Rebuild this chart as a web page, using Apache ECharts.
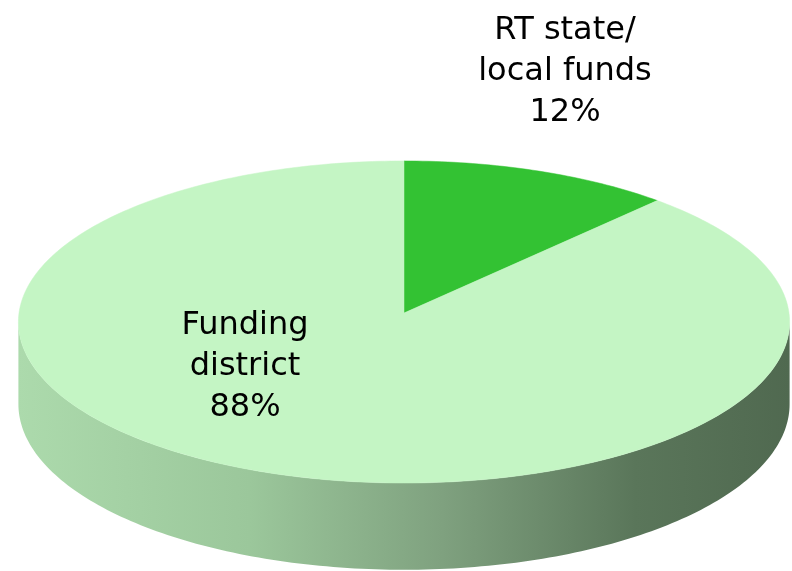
<!DOCTYPE html>
<html>
<head>
<meta charset="utf-8">
<script src="https://cdn.jsdelivr.net/npm/echarts@6/dist/echarts.min.js"></script>
<style>
  html, body { margin: 0; padding: 0; background: #ffffff; }
  #chart { width: 792px; height: 571px; }
</style>
</head>
<body>
<div id="chart"></div>
<script>
// Funding sources (percent of total)
const categories = ['RT state/\nlocal funds', 'Funding\ndistrict'];
const shares = [12, 88];

// Styling and layout
const topColors = ['#33c233', '#c4f5c4'];
const labelAnchors = [[565, 72], [245, 367]];

// Tilted-disc projection used to draw the pie in 3D
const view = {
  cx: 404, cy: 313,   // screen position of the pie centre
  scale: 385,         // pixels per unit radius
  sinE: 0.417,        // elevation of the viewpoint
  cosE: 0.909,
  dist: 16.3,         // camera distance (unit radii)
  depth: 0.234        // thickness of the disc (unit radii)
};

function project(thetaDeg, r, h) {
  const t = thetaDeg * Math.PI / 180;
  const X = r * Math.sin(t);
  const Z = r * Math.cos(t);
  const k = view.dist / (view.dist + Z * view.cosE);
  return [
    view.cx + k * view.scale * X,
    view.cy - k * view.scale * Z * view.sinE + k * h * view.cosE * view.scale
  ];
}

// Start / end angle of each slice, clockwise from 12 o'clock
const total = shares.reduce((s, v) => s + v, 0);
const sliceAngles = [];
let acc = 0;
shares.forEach(v => {
  const a0 = acc / total * 360;
  acc += v;
  sliceAngles.push([a0, acc / total * 360]);
});

// Front-facing range of the side wall
const edge = Math.acos(-view.cosE / view.dist) * 180 / Math.PI;
const frontRange = [edge, 360 - edge];

function arcPoints(a0, a1, h) {
  const pts = [];
  const n = Math.max(2, Math.ceil(Math.abs(a1 - a0)));
  for (let j = 0; j <= n; j++) {
    pts.push(project(a0 + (a1 - a0) * j / n, 1, h));
  }
  return pts;
}

const wallFill = {
  type: 'linear', x: 18, y: 0, x2: 790, y2: 0, global: true,
  colorStops: [
    { offset: 0, color: '#acdaac' },
    { offset: 0.3, color: '#9bc79b' },
    { offset: 0.55, color: '#7fa17f' },
    { offset: 0.8, color: '#5a765a' },
    { offset: 1, color: '#506950' }
  ]
};

function renderWall(params, api) {
  const [a0, a1] = sliceAngles[params.dataIndex];
  const s = Math.max(a0, frontRange[0]);
  const e = Math.min(a1, frontRange[1]);
  if (e <= s) return { type: 'group', children: [] };
  const top = arcPoints(s, e, 0);
  const bottom = arcPoints(s, e, view.depth).reverse();
  return {
    type: 'polygon',
    shape: { points: top.concat(bottom) },
    style: { fill: wallFill, stroke: null }
  };
}

function renderTop(params, api) {
  const i = params.dataIndex;
  const [a0, a1] = sliceAngles[i];
  const pts = [project(0, 0, 0)].concat(arcPoints(a0, a1, 0));
  const value = api.value(0);
  return {
    type: 'group',
    children: [
      {
        type: 'polygon',
        shape: { points: pts },
        style: { fill: topColors[i], stroke: topColors[i], lineWidth: 0.5 }
      },
      {
        type: 'text',
        x: labelAnchors[i][0],
        y: labelAnchors[i][1],
        z2: 10,
        style: {
          text: categories[i] + '\n' + value + '%',
          fill: '#000000',
          font: '32px "DejaVu Sans", Tahoma, sans-serif',
          align: 'center',
          verticalAlign: 'middle',
          lineHeight: 41
        }
      }
    ]
  };
}

const chart = echarts.init(document.getElementById('chart'), null, { renderer: 'canvas' });
chart.setOption({
  backgroundColor: '#ffffff',
  animation: false,
  series: [
    {
      type: 'custom',
      coordinateSystem: 'none',
      renderItem: renderWall,
      data: shares.map(v => [v]),
      z: 1,
      silent: true
    },
    {
      type: 'custom',
      coordinateSystem: 'none',
      renderItem: renderTop,
      data: shares.map(v => [v]),
      z: 2,
      silent: true
    }
  ]
});
</script>
</body>
</html>
